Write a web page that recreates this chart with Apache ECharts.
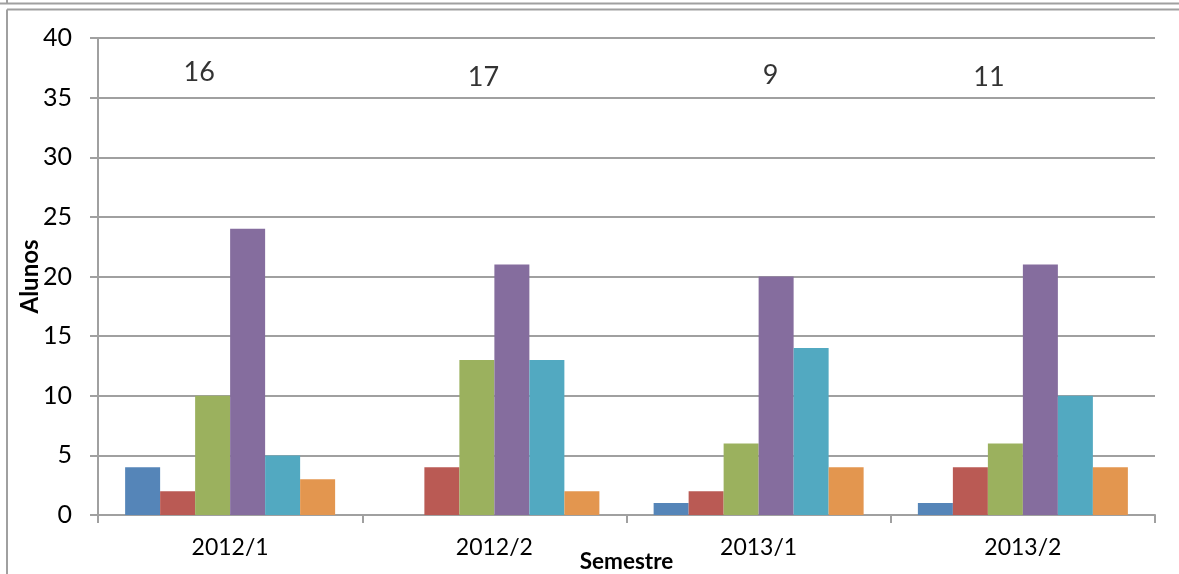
<!DOCTYPE html>
<html><head><meta charset="utf-8">
<script src="https://cdn.jsdelivr.net/npm/echarts@6/dist/echarts.min.js"></script>
<style>html,body{margin:0;padding:0;background:#fff}#c{width:1179px;height:574px}</style>
</head><body><div id="c"></div>
<script>
const categories = ['2012/1', '2012/2', '2013/1', '2013/2'];
const seriesBlue   = [4, 0, 1, 1];
const seriesRed    = [2, 4, 2, 4];
const seriesGreen  = [10, 13, 6, 6];
const seriesPurple = [24, 21, 20, 21];
const seriesCyan   = [5, 13, 14, 10];
const seriesOrange = [3, 2, 4, 4];
const topNotes = ['16', '17', '9', '11'];
const noteLevel = [37.1, 36.7, 36.9, 36.7];
const noteShift = [-31, -11, 12, -34];
const yTicks = [0, 5, 10, 15, 20, 25, 30, 35, 40];

const colors = ['#5585B8', '#BA5A54', '#9BB15E', '#856D9E', '#52A9C1', '#E3964F'];
const font = 'Lato, "Open Sans", sans-serif';
const barData = [seriesBlue, seriesRed, seriesGreen, seriesPurple, seriesCyan, seriesOrange];

const chart = echarts.init(document.getElementById('c'));
const series = barData.map((d, i) => ({
  type: 'bar', data: d, barWidth: 35, barGap: '0%',
  itemStyle: { color: colors[i] }, silent: true
}));
series.push({
  type: 'scatter', symbolSize: 0, silent: true,
  data: categories.map((c, i) => ({ value: [c, noteLevel[i]],
    label: { show: true, formatter: topNotes[i], offset: [noteShift[i], 0], position: 'inside',
      fontSize: 27, fontFamily: font, color: '#000' } }))
});
chart.setOption({
  animation: false,
  grid: { left: 98, right: 24, top: 38, bottom: 59, outerBoundsMode: 'none', containLabel: false },
  xAxis: {
    type: 'category', data: categories,
    name: 'Semestre', nameLocation: 'middle', nameGap: 35, nameMoveOverlap: false,
    nameTextStyle: { fontFamily: font, fontWeight: 'bold', fontSize: 22.5, color: '#000' },
    axisLine: { lineStyle: { color: '#a0a0a0', width: 2 } },
    axisTick: { show: true, length: 8, lineStyle: { color: '#a0a0a0', width: 2 } },
    axisLabel: { fontFamily: font, fontSize: 23, color: '#000', margin: 21 }
  },
  yAxis: {
    type: 'value', min: 0, max: 40, interval: 5,
    name: 'Alunos', nameLocation: 'middle', nameGap: 56, nameRotate: 90, nameMoveOverlap: false,
    nameTextStyle: { fontFamily: font, fontWeight: 'bold', fontSize: 24, color: '#000' },
    axisLine: { show: true, lineStyle: { color: '#a0a0a0', width: 2 } },
    axisTick: { show: true, length: 8, lineStyle: { color: '#a0a0a0', width: 2 } },
    splitLine: { lineStyle: { color: '#a0a0a0', width: 2 } },
    axisLabel: { fontFamily: font, fontSize: 25, color: '#000', margin: 26,
      formatter: v => yTicks.includes(v) ? String(v) : '' }
  },
  series: series,
  graphic: [
    { type: 'line', shape: { x1: 0, y1: 3.5, x2: 1179, y2: 3.5 }, style: { stroke: '#a0a0a0', lineWidth: 2 } },
    { type: 'line', shape: { x1: 7, y1: 0, x2: 7, y2: 3.5 }, style: { stroke: '#a0a0a0', lineWidth: 2 } },
    { type: 'line', shape: { x1: 7, y1: 9.5, x2: 1179, y2: 9.5 }, style: { stroke: '#a0a0a0', lineWidth: 2 } },
    { type: 'line', shape: { x1: 7, y1: 9.5, x2: 7, y2: 574 }, style: { stroke: '#a0a0a0', lineWidth: 2 } }
  ]
});
</script></body></html>
